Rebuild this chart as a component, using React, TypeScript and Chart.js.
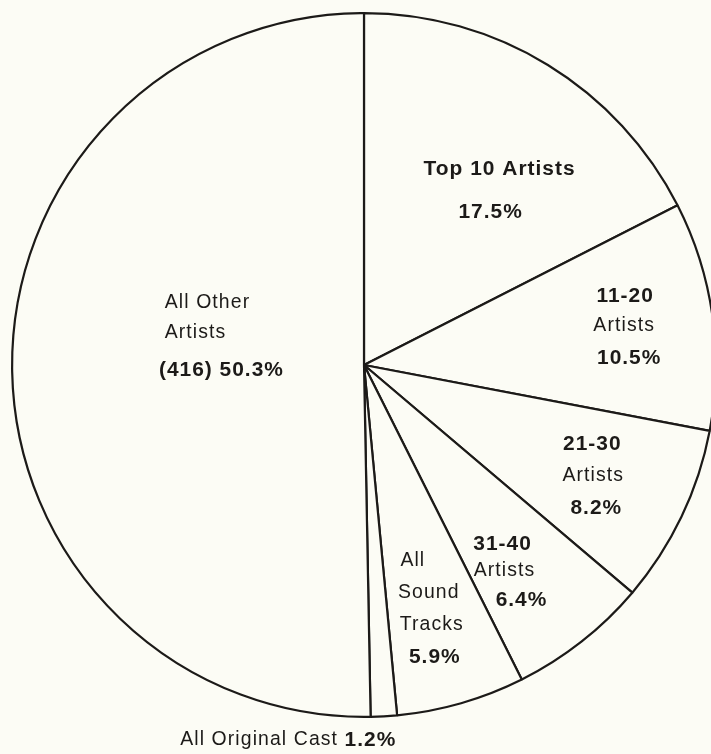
import React, { useEffect, useRef } from "react";
import { Chart, registerables } from "chart.js";

Chart.register(...registerables);

// ---- data ----
const categories = [
  "Top 10 Artists",
  "11-20 Artists",
  "21-30 Artists",
  "31-40 Artists",
  "All Sound Tracks",
  "All Original Cast",
  "All Other Artists",
];
const shares = [17.5, 10.5, 8.2, 6.4, 5.9, 1.2, 50.3];
const otherArtistCount = 416;
const labelHeadings = [
  ["Top 10 Artists"],
  ["11-20", "Artists"],
  ["21-30", "Artists"],
  ["31-40", "Artists"],
  ["All", "Sound", "Tracks"],
  ["All Original Cast"],
  ["All Other", "Artists"],
];

// ---- layout (pixel offsets in a 353px-radius design, relative to pie centre) ----
const DESIGN_R = 353;
const DESIGN_C = [364, 365];
// each entry: list of [x, y, bold] for heading lines followed by the percent line
const labelLayout: Array<Array<[number, number, boolean]>> = [
  [[500, 169, true], [491, 212, true]],
  [[626, 296, true], [625, 326, false], [630, 358, true]],
  [[593, 444, true], [594, 476, false], [597, 509, true]],
  [[503, 545, true], [505, 571, false], [522, 601, true]],
  [[413, 561, false], [429, 593, false], [432, 625, false], [435, 658, true]],
  [[288, 741, false]],
  [[207, 302, false], [195, 333, false], [221, 370, true]],
];

const BG = "#fcfcf5";
const INK = "#1c1a18";
const FONT = "'Liberation Sans', Arial, sans-serif";

const labelPlugin = {
  id: "sliceLabels",
  afterDatasetsDraw(chart: any) {
    const meta = chart.getDatasetMeta(0);
    const arc = meta.data[0];
    if (!arc) return;
    const cx = arc.x;
    const cy = arc.y;
    const k = arc.outerRadius / DESIGN_R;
    const ctx: CanvasRenderingContext2D = chart.ctx;
    ctx.save();
    ctx.fillStyle = INK;
    ctx.textBaseline = "middle";
    const setFont = (bold: boolean) => {
      ctx.font = bold ? `bold ${21 * k}px ${FONT}` : `${19.5 * k}px ${FONT}`;
      (ctx as any).letterSpacing = bold ? `${1 * k}px` : `${1.1 * k}px`;
    };
    const pos = (x: number, y: number) => [cx + (x - DESIGN_C[0]) * k, cy + (y - DESIGN_C[1]) * k];

    labelHeadings.forEach((heads, i) => {
      const lay = labelLayout[i];
      const pct = `${shares[i].toFixed(1)}%`;
      if (heads.length === 1 && lay.length === 1) {
        // single-line label: regular heading + bold percent
        const [x, y] = pos(lay[0][0], lay[0][1]);
        const a = heads[0] + " ";
        setFont(false);
        const wa = ctx.measureText(a).width;
        setFont(true);
        const wb = ctx.measureText(pct).width;
        const left = x - (wa + wb) / 2;
        ctx.textAlign = "left";
        setFont(false);
        ctx.fillText(a, left, y);
        setFont(true);
        ctx.fillText(pct, left + wa, y);
        return;
      }
      const lines = [...heads];
      const last = i === categories.length - 1 ? `(${otherArtistCount}) ${pct}` : pct;
      lines.push(last);
      lines.forEach((txt, j) => {
        const [lx, ly, bold] = lay[j];
        const [x, y] = pos(lx, ly);
        setFont(bold);
        ctx.textAlign = "center";
        ctx.fillText(txt, x, y);
      });
    });
    ctx.restore();
  },
};

export default function App() {
  const ref = useRef<HTMLCanvasElement | null>(null);
  useEffect(() => {
    document.body.style.margin = "0";
    document.body.style.background = BG;
    const canvas = ref.current!;
    const chart = new Chart(canvas, {
      type: "pie",
      data: {
        labels: categories,
        datasets: [
          {
            data: shares,
            backgroundColor: BG,
            borderColor: INK,
            borderWidth: 2.2,
          },
        ],
      },
      options: {
        responsive: false,
        animation: false,
        rotation: 0,
        layout: { padding: { left: 11, top: 12, right: 11, bottom: 36 } },
        plugins: {
          legend: { display: false },
          tooltip: { enabled: false },
        },
      },
      plugins: [labelPlugin],
    });
    return () => chart.destroy();
  }, []);
  return (
    <div style={{ width: 711, height: 754, overflow: "hidden", background: BG }}>
      <canvas ref={ref} width={728} height={754} style={{ display: "block" }} />
    </div>
  );
}
